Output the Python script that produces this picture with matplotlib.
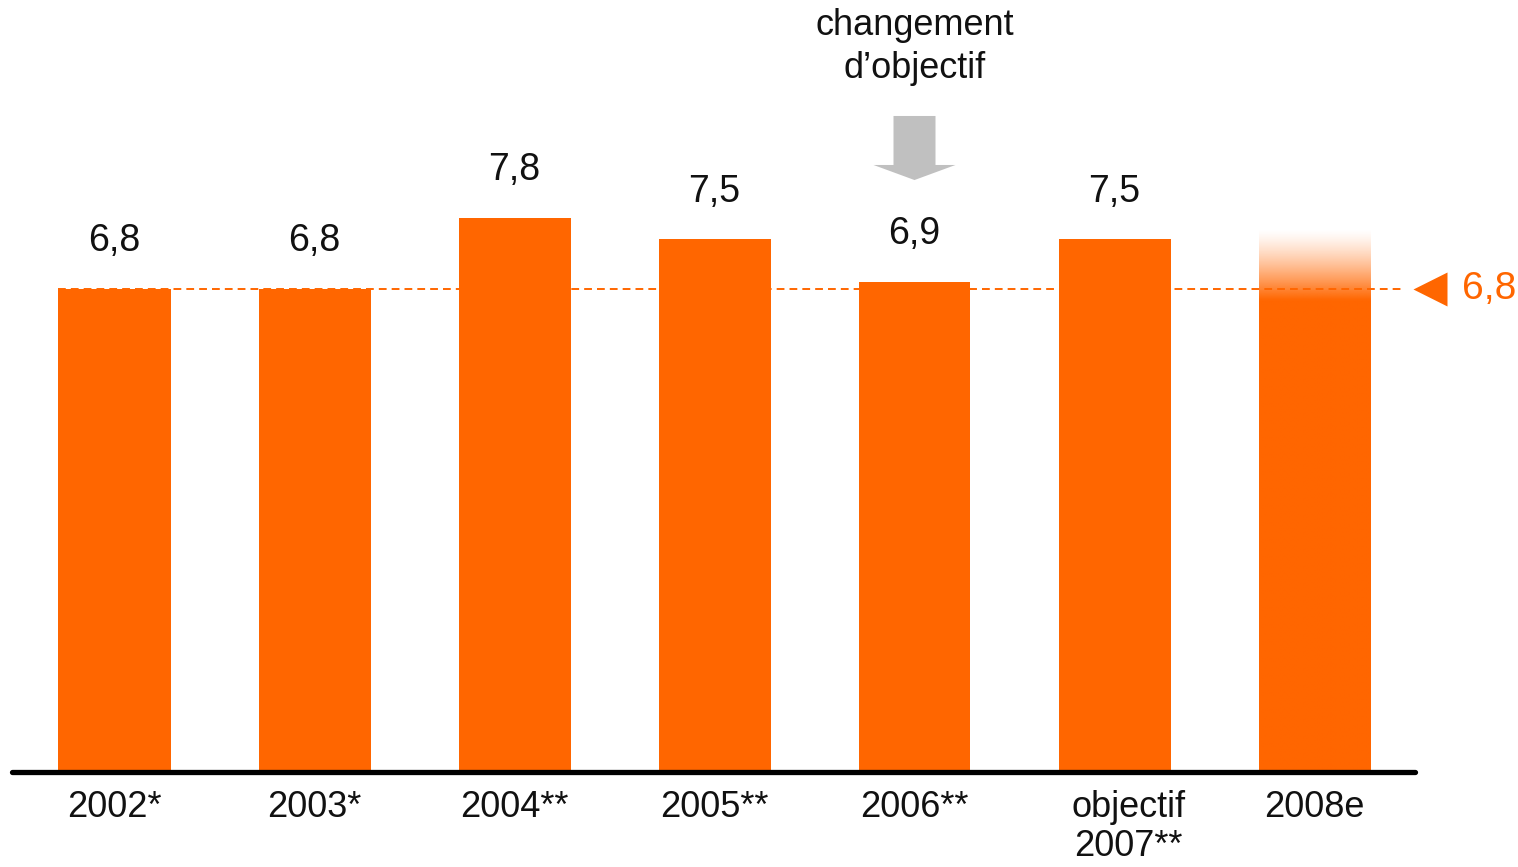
import numpy as np
import matplotlib
matplotlib.use("Agg")
import matplotlib.pyplot as plt
from matplotlib.patches import Polygon

plt.rcParams['font.family'] = ['Liberation Sans', 'DejaVu Sans']

# Data
categories = ["2002*", "2003*", "2004**", "2005**", "2006**", "objectif\n2007**", "2008e"]
values = [6.8, 6.8, 7.8, 7.5, 6.9, 7.5]
value_labels = ["6,8", "6,8", "7,8", "7,5", "6,9", "7,5"]
estimate_2008 = 7.65        # faded estimate bar
target = 6.8
target_label = "6,8"
note = "changement\nd’objectif"

ORANGE = "#FF6600"
TEXT = "#111111"
W, H, DPI = 1518, 867, 100
PX_PER_UNIT = 71.03

fig = plt.figure(figsize=(W / DPI, H / DPI), dpi=DPI)
ax = fig.add_axes([0, 0, 1, 1])
ax.set_xlim(-0.5725, -0.5725 + W / 200.0)
y0 = -95 / PX_PER_UNIT
ax.set_ylim(y0, y0 + H / PX_PER_UNIT)
ax.axis("off")

x = np.arange(len(categories))
bw = 0.56


def stacked_text(xc, y_first, text, step_px=43, **kw):
    """Write text line by line, baselines step_px pixels apart."""
    for i, line in enumerate(text.split("\n")):
        ax.text(xc, y_first - i * step_px / PX_PER_UNIT, line,
                ha="center", va="baseline", **kw)


# Reference line at the target value
ax.hlines(target, -0.28, 6.45, colors=ORANGE, linestyles=(0, (4, 2.6)), lw=1.4, zorder=1)
ax.plot([6.5775], [target], marker="<", ms=24, color=ORANGE, mec="none", zorder=3)
ax.text(6.735, target, target_label, color=ORANGE, fontsize=28, ha="left", va="center")

# Solid bars
bars = ax.bar(x[:len(values)], values, width=bw, color=ORANGE, zorder=2)
for b, v, lab in zip(bars, values, value_labels):
    ax.annotate(lab, (b.get_x() + b.get_width() / 2, v), xytext=(0, 27),
                textcoords="offset points", ha="center", va="baseline",
                fontsize=27, color=TEXT)

# Estimate bar with faded top
est = ax.bar([x[6]], [estimate_2008], width=bw, color="none", zorder=2)[0]
n = 256
yy = np.linspace(0, estimate_2008, n)
fade_lo, fade_hi = 6.65, estimate_2008
alpha = np.clip((fade_hi - yy) / (fade_hi - fade_lo), 0, 1) ** 1.3
rgba = np.zeros((n, 1, 4))
rgba[..., 0] = 1.0
rgba[..., 1] = 0x66 / 255
rgba[..., 2] = 0.0
rgba[:, 0, 3] = alpha
im = ax.imshow(rgba, origin="lower", aspect="auto", interpolation="bilinear",
               extent=(x[6] - bw / 2, x[6] + bw / 2, 0, estimate_2008), zorder=2)
im.set_clip_path(est)

# Baseline
ax.plot([-0.5125, 6.5025], [0, 0], color="black", lw=3.8, solid_capstyle="round", zorder=4)

# Category labels
for xi, cat in zip(x, categories):
    shift = 0.07 if "\n" in cat else 0
    stacked_text(xi + shift, -0.64, cat, step_px=39, fontsize=26, color=TEXT)

# Annotation with arrow above the 2006 bar
stacked_text(4, 10.376, note, fontsize=26, color=TEXT)
sw, hw = 0.105, 0.205
y_top, y_neck, y_tip = 9.236, 8.546, 8.334
arrow = Polygon([(4 - sw, y_top), (4 + sw, y_top), (4 + sw, y_neck), (4 + hw, y_neck),
                 (4, y_tip), (4 - hw, y_neck), (4 - sw, y_neck)],
                closed=True, color="#C0C0C0", lw=0, zorder=3)
ax.add_patch(arrow)

fig.savefig("out.png", dpi=DPI)
